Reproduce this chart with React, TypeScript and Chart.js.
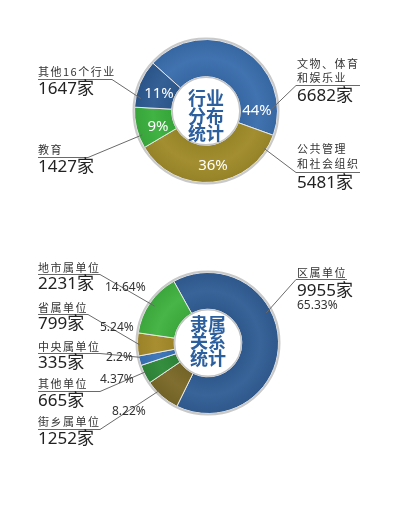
import React, { useEffect, useRef } from "react";
import { Chart, registerables } from "chart.js";
Chart.register(...registerables);

// ---------- data ----------
const industryNames = [["文物、体育", "和娱乐业"], ["公共管理", "和社会组织"], ["教育"], ["其他16个行业"]];
const industryCounts = [6682, 5481, 1427, 1647];
const industryPct = ["44%", "36%", "9%", "11%"];
const industryColors = ["#3b6fae", "#a08c2b", "#3bb03e", "#2e5b93"];
const industryTitle = ["行业", "分布", "统计"];

const affilNames = [["区属单位"], ["街乡属单位"], ["其他单位"], ["中央属单位"], ["省属单位"], ["地市属单位"]];
const affilCounts = [9955, 1252, 665, 335, 799, 2231];
const affilPct = ["65.33%", "8.22%", "4.37%", "2.2%", "5.24%", "14.64%"];
const affilColors = ["#325f96", "#7b6a29", "#2f8a3a", "#3a74b9", "#a68b2b", "#41b341"];
const affilTitle = ["隶属", "关系", "统计"];

// ---------- layout (page coordinates) ----------
type Callout = {
  x: number; nameY: number[]; underY: number; ux1: number; ux2: number; countY: number;
  from: [number, number]; t: number; r: number; pct?: [number, number];
};

const industryLayout: Callout[] = [
  { x: 297, nameY: [64, 78], underY: 85, ux1: 296, ux2: 360, countY: 96, from: [296, 85], t: 0.87, r: 0.9 },
  { x: 297, nameY: [149, 164], underY: 172, ux1: 296, ux2: 360, countY: 183, from: [296, 172], t: 0.1, r: 0.97 },
  { x: 38, nameY: [150], underY: 157, ux1: 38, ux2: 88, countY: 167, from: [88, 157], t: 0.3, r: 0.95 },
  { x: 38, nameY: [72], underY: 79, ux1: 38, ux2: 112, countY: 89, from: [112, 79], t: 0.2, r: 0.93 },
];
const industryInner: [number, number][] = [[257, 111], [213, 166], [158, 127], [159, 94]];

const affilLayout: Callout[] = [
  { x: 297, nameY: [273], underY: 279, ux1: 296, ux2: 347, countY: 291, from: [296, 279], t: 0.39, r: 0.93, pct: [297, 306] },
  { x: 38, nameY: [422], underY: 429, ux1: 38, ux2: 100, countY: 439, from: [100, 429], t: 0.66, r: 0.97, pct: [112, 412] },
  { x: 38, nameY: [384], underY: 391, ux1: 38, ux2: 100, countY: 401, from: [100, 391], t: 0.6, r: 0.97, pct: [100, 380] },
  { x: 38, nameY: [347], underY: 353, ux1: 38, ux2: 100, countY: 363, from: [100, 353], t: 0.8, r: 0.97, pct: [106, 358] },
  { x: 38, nameY: [308], underY: 314, ux1: 38, ux2: 88, countY: 324, from: [88, 314], t: 0.48, r: 0.97, pct: [100, 328] },
  { x: 38, nameY: [268], underY: 274, ux1: 38, ux2: 100, countY: 284, from: [100, 274], t: 0.5, r: 0.92, pct: [105, 288] },
];

const NAME_FONT = "11px 'Noto Sans CJK SC'";
const COUNT_FONT = "17px 'Noto Sans', 'Noto Sans CJK SC'";
const PCT_FONT = "12px 'Noto Sans', 'Noto Sans CJK SC'";
const TITLE_FONT = "bold 18px 'Noto Sans CJK SC'";

function shade(hex: string, f: number) {
  const n = parseInt(hex.slice(1), 16);
  const r = (n >> 16) & 255, g = (n >> 8) & 255, b = n & 255;
  const m = (c: number) => Math.max(0, Math.min(255, Math.round(f < 0 ? c * (1 + f) : c + (255 - c) * f)));
  return `rgb(${m(r)},${m(g)},${m(b)})`;
}

type Spec = {
  names: string[][]; counts: number[]; pct: string[]; colors: string[]; title: string[];
  layout: Callout[]; inner?: [number, number][]; rotation: number; offsetY: number;
  width: number; height: number; padding: { left: number; right: number; top: number; bottom: number };
  titleY: number[];
};

function Donut({ spec }: { spec: Spec }) {
  const ref = useRef<HTMLCanvasElement>(null);
  useEffect(() => {
    const oy = spec.offsetY;
    const plugin = {
      id: "callouts",
      afterDatasetsDraw(chart: any) {
        const ctx = chart.ctx;
        const meta = chart.getDatasetMeta(0);
        const arc0 = meta.data[0];
        if (!arc0) return;
        const { x, y, outerRadius, innerRadius } = arc0;
        ctx.save();
        ctx.strokeStyle = "#c9c9c9";
        ctx.lineWidth = 2;
        ctx.beginPath();
        ctx.arc(x, y, outerRadius + 1, 0, Math.PI * 2);
        ctx.stroke();
        ctx.strokeStyle = "#c4c4c4";
        ctx.lineWidth = 1.5;
        ctx.beginPath();
        ctx.arc(x, y, innerRadius - 0.5, 0, Math.PI * 2);
        ctx.stroke();
        ctx.restore();
      },
      afterDraw(chart: any) {
        const ctx = chart.ctx;
        const meta = chart.getDatasetMeta(0);
        ctx.save();
        const a0 = meta.data[0];
        ctx.fillStyle = "#2c5f9e";
        ctx.font = TITLE_FONT;
        ctx.textAlign = "center";
        ctx.textBaseline = "middle";
        spec.title.forEach((t, i) => ctx.fillText(t, a0.x, spec.titleY[i] - oy));
        if (spec.inner) {
          ctx.fillStyle = "#ffffff";
          ctx.font = "15px 'Noto Sans'";
          spec.inner.forEach((p, i) => ctx.fillText(spec.pct[i], p[0], p[1] - oy));
        }
        spec.layout.forEach((c, i) => {
          const arc = meta.data[i];
          const ang = arc.startAngle + c.t * (arc.endAngle - arc.startAngle);
          const rad = c.r * arc.outerRadius;
          const ax = arc.x + rad * Math.cos(ang);
          const ay = arc.y + rad * Math.sin(ang);
          ctx.strokeStyle = "#6a6a6a";
          ctx.lineWidth = 1;
          ctx.beginPath();
          ctx.moveTo(c.ux1, c.underY - oy + 0.5);
          ctx.lineTo(c.ux2, c.underY - oy + 0.5);
          ctx.stroke();
          ctx.beginPath();
          ctx.moveTo(c.from[0], c.from[1] - oy + 0.5);
          ctx.lineTo(ax, ay);
          ctx.stroke();
          ctx.textAlign = "left";
          ctx.textBaseline = "middle";
          ctx.fillStyle = "#333333";
          ctx.font = NAME_FONT;
          (ctx as any).letterSpacing = "1.5px";
          spec.names[i].forEach((n, k) => ctx.fillText(n, c.x, c.nameY[k] - oy));
          (ctx as any).letterSpacing = "0px";
          ctx.fillStyle = "#222222";
          ctx.font = COUNT_FONT;
          ctx.fillText(spec.counts[i] + "家", c.x, c.countY - oy);
          if (c.pct) {
            ctx.font = PCT_FONT;
            ctx.fillStyle = "#333333";
            ctx.fillText(spec.pct[i], c.pct[0], c.pct[1] - oy);
          }
        });
        ctx.restore();
      },
    };
    const chart = new Chart(ref.current!, {
      type: "doughnut",
      data: {
        labels: spec.names.map((n) => n.join("")),
        datasets: [
          {
            data: spec.counts,
            backgroundColor: (c: any) => {
              const base = spec.colors[c.dataIndex];
              const ch = c.chart;
              const ca = ch.chartArea;
              const ctrl = ch.getDatasetMeta(0).controller as any;
              if (!ca || !ctrl || !ctrl.outerRadius) return base;
              const cx = (ca.left + ca.right) / 2;
              const cy = (ca.top + ca.bottom) / 2;
              const g = ch.ctx.createRadialGradient(cx, cy, ctrl.innerRadius, cx, cy, ctrl.outerRadius);
              g.addColorStop(0, shade(base, -0.06));
              g.addColorStop(0.5, shade(base, 0.03));
              g.addColorStop(1, shade(base, -0.07));
              return g;
            },
            borderColor: "#e6e6e6",
            borderWidth: 1,
          },
        ],
      },
      options: {
        animation: false,
        responsive: false,
        cutout: "48%",
        rotation: spec.rotation,
        layout: { padding: spec.padding },
        plugins: { legend: { display: false }, tooltip: { enabled: false } },
      },
      plugins: [plugin],
    });
    return () => chart.destroy();
  }, [spec]);
  return (
    <canvas
      ref={ref}
      width={spec.width}
      height={spec.height}
      style={{ position: "absolute", left: 0, top: spec.offsetY, width: spec.width, height: spec.height }}
    />
  );
}

const topSpec: Spec = {
  names: industryNames, counts: industryCounts, pct: industryPct, colors: industryColors, title: industryTitle,
  layout: industryLayout, inner: industryInner, rotation: -48, offsetY: 0, width: 400, height: 250,
  padding: { left: 134, right: 122, top: 39, bottom: 67 }, titleY: [98, 116, 133],
};
const bottomSpec: Spec = {
  names: affilNames, counts: affilCounts, pct: affilPct, colors: affilColors, title: affilTitle,
  layout: affilLayout, rotation: -29, offsetY: 250, width: 400, height: 259,
  padding: { left: 137, right: 121, top: 22, bottom: 95 }, titleY: [324, 341, 358],
};

export default function App() {
  return (
    <div style={{ position: "fixed", left: 0, top: 0, width: 400, height: 509, background: "#ffffff", overflow: "hidden" }}>
      <Donut spec={topSpec} />
      <Donut spec={bottomSpec} />
    </div>
  );
}
